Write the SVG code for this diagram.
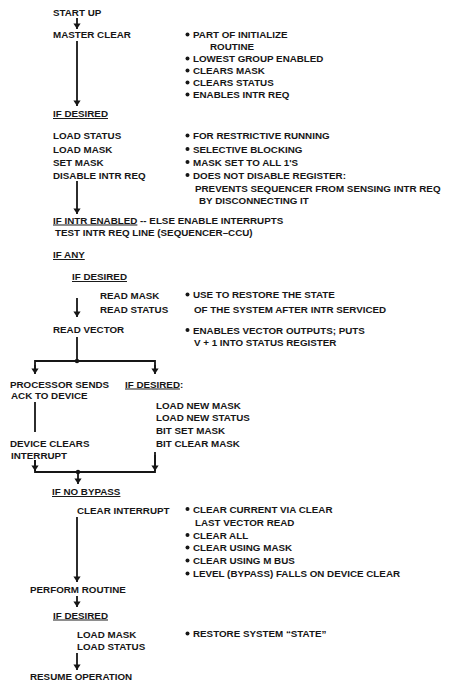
<svg xmlns="http://www.w3.org/2000/svg" width="452" height="684" viewBox="0 0 452 684">
<style>
text{font-family:"Liberation Sans",Arial,sans-serif;font-weight:bold;font-size:9.8px;fill:#161616}
.u{text-decoration:underline}
.ln{stroke:#161616;stroke-width:1.8;fill:none}
.b{fill:#161616}
</style>
<defs>
<marker id="ah" viewBox="0 0 6 8" refX="6" refY="4" markerWidth="3.2" markerHeight="4" orient="auto" markerUnits="strokeWidth">
<path d="M0,0 L6,4 L0,8 z" fill="#161616"/>
</marker>
</defs>
<rect width="452" height="684" fill="#fff"/>

<g id="connectors">
<line class="ln" x1="77" y1="18" x2="77" y2="29" marker-end="url(#ah)"/>
<line class="ln" x1="77" y1="41" x2="77" y2="106" marker-end="url(#ah)"/>
<line class="ln" x1="77" y1="181" x2="77" y2="214" marker-end="url(#ah)"/>
<line class="ln" x1="77" y1="298" x2="77" y2="317" marker-end="url(#ah)"/>
<line class="ln" x1="77" y1="337" x2="77" y2="361"/>
<polyline class="ln" points="35,373 35,361 155,361 155,373"/>
<line class="ln" x1="35" y1="365" x2="35" y2="374" marker-end="url(#ah)"/>
<line class="ln" x1="155" y1="365" x2="155" y2="374" marker-end="url(#ah)"/>
<circle class="b" cx="77" cy="361" r="2.2"/>
<line class="ln" x1="35" y1="402" x2="35" y2="432"/>
<polyline class="ln" points="35,460 35,472 155,472 155,452"/>
<line class="ln" x1="35" y1="460" x2="35" y2="471" marker-end="url(#ah)"/>
<line class="ln" x1="155" y1="455" x2="155" y2="471" marker-end="url(#ah)"/>
<circle class="b" cx="78" cy="472" r="2.2"/>
<line class="ln" x1="78" y1="472" x2="78" y2="484" marker-end="url(#ah)"/>
<line class="ln" x1="77" y1="517" x2="77" y2="582" marker-end="url(#ah)"/>
<line class="ln" x1="77" y1="596" x2="77" y2="607" marker-end="url(#ah)"/>
<line class="ln" x1="77" y1="653" x2="77" y2="670" marker-end="url(#ah)"/>
</g>

<g id="start-up"><text x="53" y="15.5">START UP</text></g>
<g id="master-clear"><text x="53" y="38">MASTER CLEAR</text></g>
<g id="master-clear-notes">
<circle class="b" cx="187.5" cy="34.5" r="2"/><text x="193" y="38">PART OF INITIALIZE</text>
<text x="210" y="50">ROUTINE</text>
<circle class="b" cx="187.5" cy="58.5" r="2"/><text x="193" y="62">LOWEST GROUP ENABLED</text>
<circle class="b" cx="187.5" cy="70.5" r="2"/><text x="193" y="74">CLEARS MASK</text>
<circle class="b" cx="187.5" cy="82.5" r="2"/><text x="193" y="86">CLEARS STATUS</text>
<circle class="b" cx="187.5" cy="94.5" r="2"/><text x="193" y="98">ENABLES INTR REQ</text>
</g>

<g id="if-desired-1"><text x="53" y="117" class="u">IF DESIRED</text></g>
<g id="load-group-1">
<text x="53" y="139">LOAD STATUS</text>
<text x="53" y="152.5">LOAD MASK</text>
<text x="53" y="165.5">SET MASK</text>
<text x="53" y="178.5">DISABLE INTR REQ</text>
</g>
<g id="load-group-1-notes">
<circle class="b" cx="187.5" cy="135.5" r="2"/><text x="193" y="139">FOR RESTRICTIVE RUNNING</text>
<circle class="b" cx="187.5" cy="149" r="2"/><text x="193" y="152.5">SELECTIVE BLOCKING</text>
<circle class="b" cx="187.5" cy="162" r="2"/><text x="193" y="165.5">MASK SET TO ALL 1'S</text>
<circle class="b" cx="187.5" cy="175" r="2"/><text x="193" y="178.5">DOES NOT DISABLE REGISTER:</text>
<text x="195" y="191.5">PREVENTS SEQUENCER FROM SENSING INTR REQ</text>
<text x="199" y="204">BY DISCONNECTING IT</text>
</g>

<g id="if-intr-enabled">
<text x="53" y="223.5"><tspan class="u">IF INTR ENABLED</tspan> -- ELSE ENABLE INTERRUPTS</text>
<text x="55" y="236">TEST INTR REQ LINE (SEQUENCER–CCU)</text>
</g>
<g id="if-any"><text x="53" y="258" class="u">IF ANY</text></g>
<g id="if-desired-2"><text x="72" y="280" class="u">IF DESIRED</text></g>
<g id="read-mask-status">
<text x="100" y="299">READ MASK</text>
<text x="100" y="313">READ STATUS</text>
</g>
<g id="read-mask-notes">
<circle class="b" cx="187.5" cy="294.5" r="2"/><text x="193" y="298">USE TO RESTORE THE STATE</text>
<text x="194" y="312.5">OF THE SYSTEM AFTER INTR SERVICED</text>
</g>
<g id="read-vector"><text x="53" y="333">READ VECTOR</text></g>
<g id="read-vector-notes">
<circle class="b" cx="187.5" cy="330" r="2"/><text x="193" y="333.5">ENABLES VECTOR OUTPUTS; PUTS</text>
<text x="194" y="346">V + 1 INTO STATUS REGISTER</text>
</g>

<g id="processor-sends">
<text x="10" y="387.5">PROCESSOR SENDS</text>
<text x="11" y="398.5">ACK TO DEVICE</text>
</g>
<g id="if-desired-3"><text x="125" y="387.5"><tspan class="u">IF DESIRED</tspan>:</text></g>
<g id="load-new">
<text x="156" y="408.5">LOAD NEW MASK</text>
<text x="156" y="421">LOAD NEW STATUS</text>
<text x="156" y="434">BIT SET MASK</text>
<text x="156" y="447">BIT CLEAR MASK</text>
</g>
<g id="device-clears">
<text x="10" y="447">DEVICE CLEARS</text>
<text x="11" y="459">INTERRUPT</text>
</g>

<g id="if-no-bypass"><text x="52" y="495" class="u">IF NO BYPASS</text></g>
<g id="clear-interrupt"><text x="77" y="513.5">CLEAR INTERRUPT</text></g>
<g id="clear-interrupt-notes">
<circle class="b" cx="187.5" cy="509" r="2"/><text x="193" y="512.5">CLEAR CURRENT VIA CLEAR</text>
<text x="195" y="525.5">LAST VECTOR READ</text>
<circle class="b" cx="187.5" cy="535" r="2"/><text x="193" y="538.5">CLEAR ALL</text>
<circle class="b" cx="187.5" cy="547.5" r="2"/><text x="193" y="551">CLEAR USING MASK</text>
<circle class="b" cx="187.5" cy="560.5" r="2"/><text x="193" y="564">CLEAR USING M BUS</text>
<circle class="b" cx="187.5" cy="573.5" r="2"/><text x="193" y="577">LEVEL (BYPASS) FALLS ON DEVICE CLEAR</text>
</g>
<g id="perform-routine"><text x="30" y="592.5">PERFORM ROUTINE</text></g>
<g id="if-desired-4"><text x="53" y="618.5" class="u">IF DESIRED</text></g>
<g id="load-group-2">
<text x="77" y="637.5">LOAD MASK</text>
<text x="77" y="649.5">LOAD STATUS</text>
</g>
<g id="load-group-2-notes">
<circle class="b" cx="187.5" cy="633.5" r="2"/><text x="193" y="637">RESTORE SYSTEM “STATE”</text>
</g>
<g id="resume-operation"><text x="30" y="679.5">RESUME OPERATION</text></g>
</svg>
